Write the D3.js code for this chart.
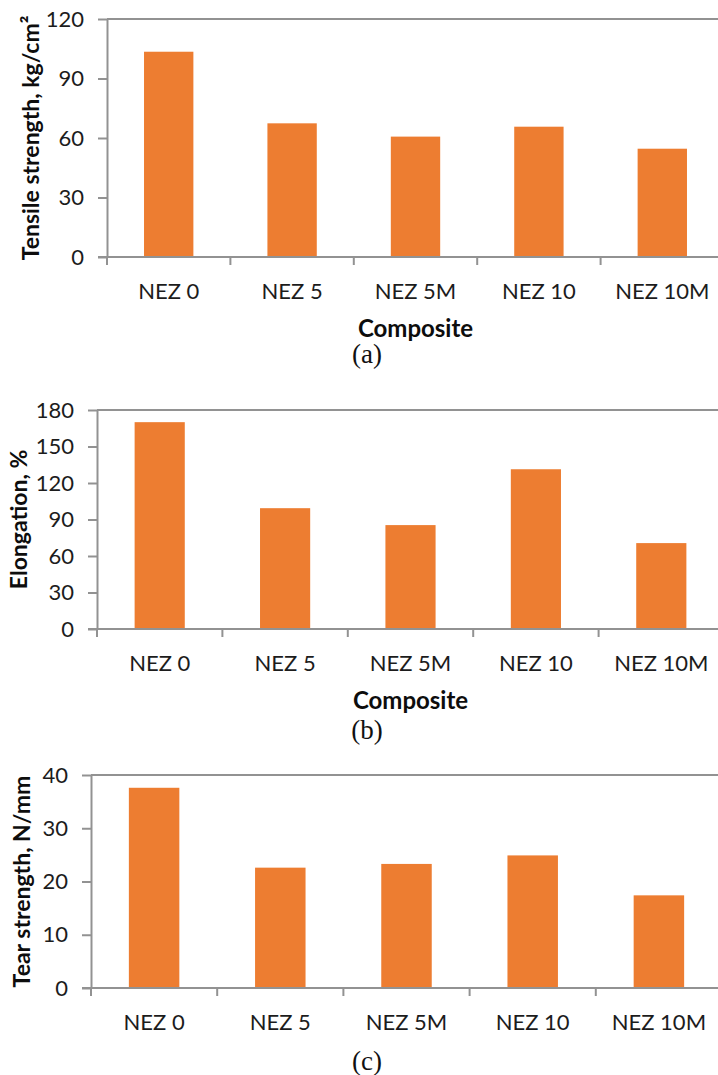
<!DOCTYPE html>
<html>
<head>
<meta charset="utf-8">
<title>NEZ composites</title>
<script src="https://d3js.org/d3.v7.min.js"></script>
<style>
body { margin: 0; background: #fff; }
svg { display: block; }
.frame, .axis path, .axis line {
  fill: none;
  stroke: #929292;
  stroke-width: 2px;
}
.axis text, .cat {
  font-family: Lato, "Open Sans", sans-serif;
  font-size: 22px;
  fill: #1c1c1c;
}
.title {
  font-family: Lato, "Open Sans", sans-serif;
  font-size: 23px;
  font-weight: bold;
  fill: #0d0d0d;
}
.caption {
  font-family: "Liberation Serif", "DejaVu Serif", serif;
  font-size: 27px;
  fill: #111;
}
</style>
</head>
<body>
<script>
// data
const categories = ["NEZ 0", "NEZ 5", "NEZ 5M", "NEZ 10", "NEZ 10M"]
const tensile = [103.5, 67.4, 60.7, 65.7, 54.6]      // kg/cm2
const elongation = [170, 99.3, 85.4, 131.3, 70.6]    // %
const tear = [37.6, 22.6, 23.3, 24.9, 17.4]          // N/mm
const tensileTicks = [0, 30, 60, 90, 120]
const elongationTicks = [0, 30, 60, 90, 120, 150, 180]
const tearTicks = [0, 10, 20, 30, 40]

var W = 718, H = 1075
var svg = d3.select("body").append("svg")
    .attr("width", W)
    .attr("height", H)

// one entry per panel: plot box in page pixels plus texts
var panels = [
  {values: tensile, ticks: tensileTicks, max: 120, title: "Tensile strength, kg/cm²",
   left: 107, top: 19, bottom: 257, right: 724, titleX: 31, composite: true, caption: "(a)", capY: 354},
  {values: elongation, ticks: elongationTicks, max: 180, title: "Elongation, %",
   left: 97, top: 410, bottom: 629, right: 724, titleX: 19, composite: true, caption: "(b)", capY: 730},
  {values: tear, ticks: tearTicks, max: 40, title: "Tear strength, N/mm",
   left: 91, top: 775, bottom: 988, right: 722, titleX: 22, composite: false, caption: "(c)", capY: 1061}
]

panels.forEach(function(p) {
  var x = d3.scaleBand()
      .domain(categories)
      .range([p.left, p.right])
      .paddingInner(0.6)
      .paddingOuter(0.3)
  var y = d3.scaleLinear()
      .domain([0, p.max])
      .range([p.bottom, p.top])

  var g = svg.append("g")

  // bars
  g.selectAll(".bar")
    .data(p.values)
    .enter().append("rect")
      .attr("class", "bar")
      .attr("x", function(d, i) { return x(categories[i]); })
      .attr("width", x.bandwidth())
      .attr("y", function(d) { return y(d); })
      .attr("height", function(d) { return y(0) - y(d); })
      .attr("fill", "#ed7d31")

  // top + right border of the plot area
  g.append("path")
    .attr("class", "frame")
    .attr("d", "M" + p.left + "," + y(p.max) + "H" + p.right + "V" + y(0))

  // y axis
  var yAxis = d3.axisLeft(y)
      .tickValues(p.ticks)
      .tickSize(9)
      .tickPadding(14)
      .tickSizeOuter(0)
  g.append("g")
    .attr("class", "axis")
    .attr("transform", "translate(" + p.left + ",0)")
    .call(yAxis)

  // x axis: line plus ticks between categories
  var bounds = categories.map(function(c) { return x(c) + x.bandwidth() / 2 - x.step() / 2; })
  bounds.push(p.right)
  var xg = g.append("g").attr("class", "axis")
  xg.append("line")
    .attr("x1", p.left - 9).attr("x2", p.right)
    .attr("y1", y(0)).attr("y2", y(0))
  xg.selectAll(".xt")
    .data(bounds)
    .enter().append("line")
      .attr("class", "xt")
      .attr("x1", function(d) { return d; }).attr("x2", function(d) { return d; })
      .attr("y1", y(0)).attr("y2", y(0) + 8)

  g.selectAll(".cat")
    .data(categories)
    .enter().append("text")
      .attr("class", "cat")
      .attr("text-anchor", "middle")
      .attr("x", function(d) { return x(d) + x.bandwidth() / 2; })
      .attr("y", y(0) + 34)
      .attr("dy", "0.35em")
      .text(function(d) { return d; })

  // titles
  g.append("text")
    .attr("class", "title")
    .attr("text-anchor", "middle")
    .attr("transform", "translate(" + p.titleX + "," + (p.top + p.bottom) / 2 + ") rotate(-90)")
    .attr("dy", "0.35em")
    .text(p.title)

  if (p.composite) {
    g.append("text")
      .attr("class", "title")
      .attr("text-anchor", "middle")
      .style("font-size", "24px")
      .attr("x", (p.left + p.right) / 2)
      .attr("y", y(0) + 72)
      .attr("dy", "0.35em")
      .text("Composite")
  }

  g.append("text")
    .attr("class", "caption")
    .attr("text-anchor", "middle")
    .attr("x", 367)
    .attr("y", p.capY)
    .attr("dy", "0.35em")
    .text(p.caption)
})
</script>
</body>
</html>
